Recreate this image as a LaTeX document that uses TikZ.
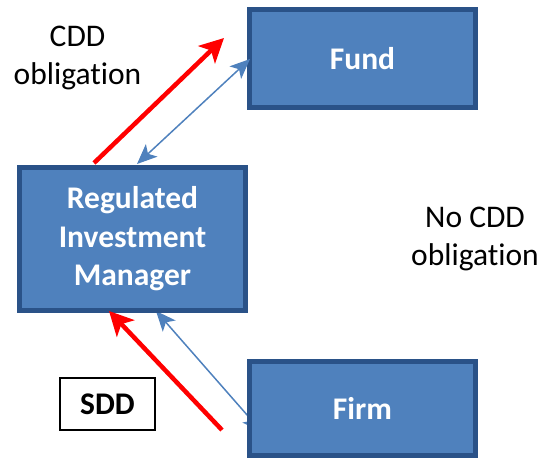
\documentclass[tikz,border=0pt]{standalone}
\usepackage{fontspec}
\setmainfont{Carlito}[Ligatures={NoCommon,NoRequired}]
\usetikzlibrary{arrows.meta}
\definecolor{boxfill}{HTML}{4F81BD}
\definecolor{boxline}{HTML}{2A5288}
\definecolor{arrblue}{HTML}{4F81BD}
\tikzset{
  entity/.style={draw=boxline, line width=5pt, fill=boxfill, text=white,
    font=\fontsize{31.5}{38.5}\selectfont\bfseries, align=center, inner sep=0pt},
  plain/.style={font=\fontsize{31.5}{38}\selectfont, align=center, text=black},
  redarrow/.style={draw=red, line width=4.5pt,
    -{Stealth[length=24pt,width=24pt,inset=6pt]}},
  bluearrow/.style={draw=arrblue, line width=1.5pt,
    {Stealth[length=20pt,width=17pt,inset=5pt]}-{Stealth[length=20pt,width=17pt,inset=5pt]}},
  sddbox/.style={draw=black, line width=1.5pt, fill=white,
    font=\fontsize{31.5}{38}\selectfont\bfseries, minimum width=95pt, minimum height=52pt, inner sep=0pt}
}
\begin{document}
\begin{tikzpicture}[x=1pt,y=-1pt]
\useasboundingbox (0,0) rectangle (541,459);
% arrow end points
\coordinate (r1s) at (94,163);
\coordinate (r1e) at (224,38);
\coordinate (b1s) at (137,164);
\coordinate (b1e) at (250,59);
\coordinate (r2s) at (222,430);
\coordinate (r2e) at (109,311);
\coordinate (b2s) at (262,432);
\coordinate (b2e) at (156,311);
% arrow partly hidden under the Firm box
\draw[bluearrow] (b2s) -- (b2e);
% boxes
\node[entity, minimum width=226pt, minimum height=98pt] (fund) at (362.5,58.5) {Fund};
\node[entity, minimum width=226pt, minimum height=94pt] (firm) at (362.5,408.5) {Firm};
\node[entity, minimum width=226pt, minimum height=143pt] (rim) at (132.5,239) {Regulated\\Investment\\Manager};
\node[sddbox] (sdd) at (107.5,404) {SDD};
\node[plain] (cdd) at (77.5,58) {CDD\\obligation};
\node[plain] (nocdd) at (475,239) {No CDD\\obligation};
% arrows
\draw[redarrow] (r1s) -- (r1e);
\draw[bluearrow] (b1s) -- (b1e);
\draw[redarrow] (r2s) -- (r2e);
\end{tikzpicture}
\end{document}
